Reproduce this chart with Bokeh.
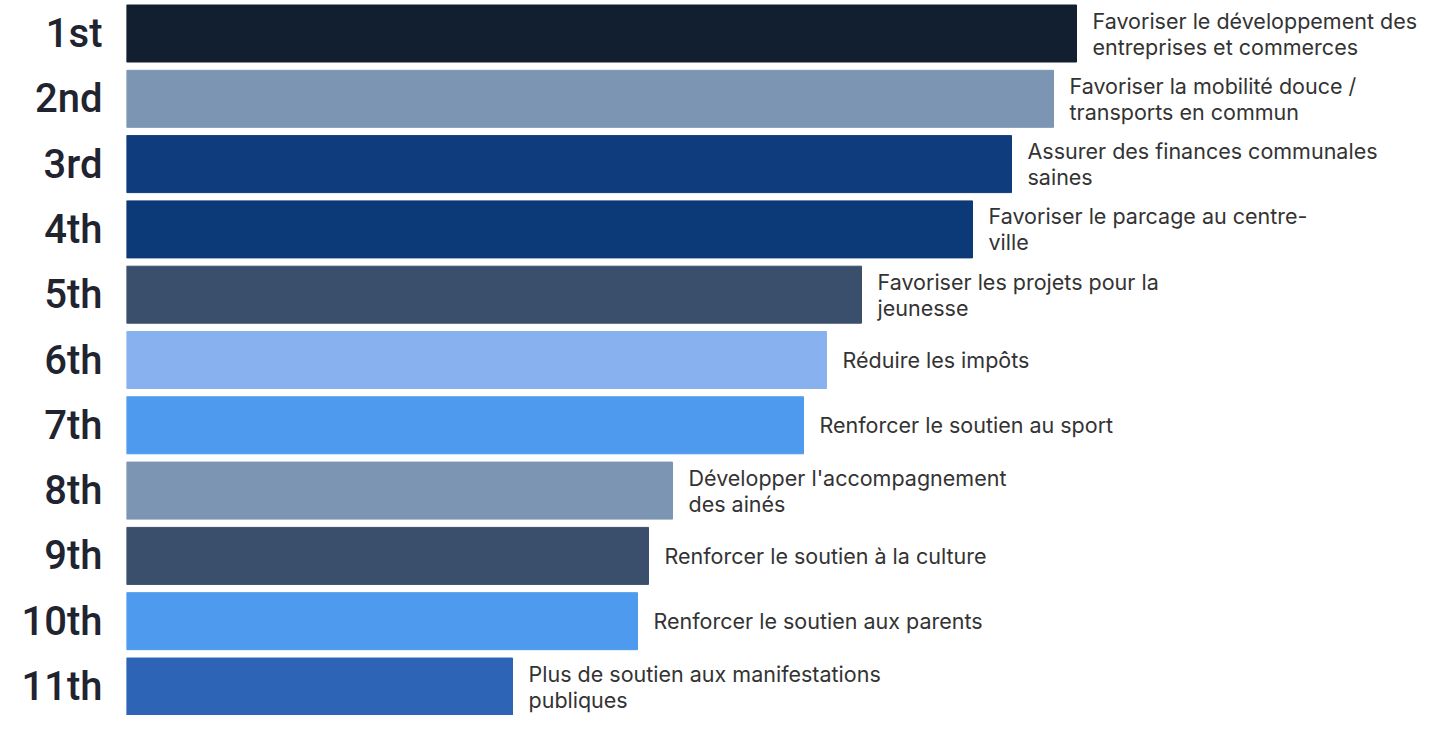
from bokeh.plotting import figure
from bokeh.models import Range1d, FixedTicker, ColumnDataSource
from bokeh.embed import file_html
from bokeh.resources import INLINE
from bokeh.core.properties import value

ranks = [1, 2, 3, 4, 5, 6, 7, 8, 9, 10, 11]
rank_labels = ["1st", "2nd", "3rd", "4th", "5th", "6th", "7th", "8th", "9th", "10th", "11th"]
scores = [950, 927, 885, 846, 735, 700, 677, 546, 522, 511, 386]
topics = [
    "Favoriser le développement des\nentreprises et commerces",
    "Favoriser la mobilité douce /\ntransports en commun",
    "Assurer des finances communales\nsaines",
    "Favoriser le parcage au centre-\nville",
    "Favoriser les projets pour la\njeunesse",
    "Réduire les impôts",
    "Renforcer le soutien au sport",
    "Développer l'accompagnement\ndes ainés",
    "Renforcer le soutien à la culture",
    "Renforcer le soutien aux parents",
    "Plus de soutien aux manifestations\npubliques",
]
colors = ["#121f30", "#7b95b3", "#0e3c7c", "#0c3a79", "#3a4f6b", "#87b2ef",
          "#4e9aee", "#7b95b3", "#3a4f6b", "#4e9aee", "#2e64b6"]

W, H = 1424, 715
LEFT = 126
PITCH = 65.3

src = ColumnDataSource(dict(
    y=ranks, right=scores, color=colors, text=topics,
    tx=[s + 16 for s in scores],
))

y_top = 1 - 33 / PITCH
y_bot = y_top + H / PITCH

p = figure(width=W, height=H, output_backend="svg", toolbar_location=None,
           x_range=Range1d(0, W - LEFT), y_range=Range1d(y_bot, y_top),
           min_border_left=LEFT, min_border_right=0, min_border_top=0, min_border_bottom=0)
p.hbar(y="y", left=0, right="right", height=57 / PITCH, color="color", source=src)
p.text(x="tx", y="y", text="text", source=src, text_font=value("Inter"),
       text_font_size="21.5px", text_color="#333333", text_align="left",
       text_baseline="middle", text_line_height=1.0)

p.xaxis.visible = False
ya = p.yaxis[0]
ya.ticker = FixedTicker(ticks=ranks)
ya.major_label_overrides = {r: l for r, l in zip(ranks, rank_labels)}
ya.axis_line_color = None
ya.major_tick_line_color = None
ya.minor_tick_line_color = None
ya.major_tick_out = 0
ya.major_tick_in = 0
ya.major_label_standoff = 24
ya.major_label_text_font = "Roboto Medium"
ya.major_label_text_font_style = "normal"
ya.major_label_text_font_size = "40px"
ya.major_label_text_color = "#1f2430"
p.xgrid.visible = False
p.ygrid.visible = False
p.outline_line_color = None

open("out.html", "w").write(file_html(p, INLINE))
